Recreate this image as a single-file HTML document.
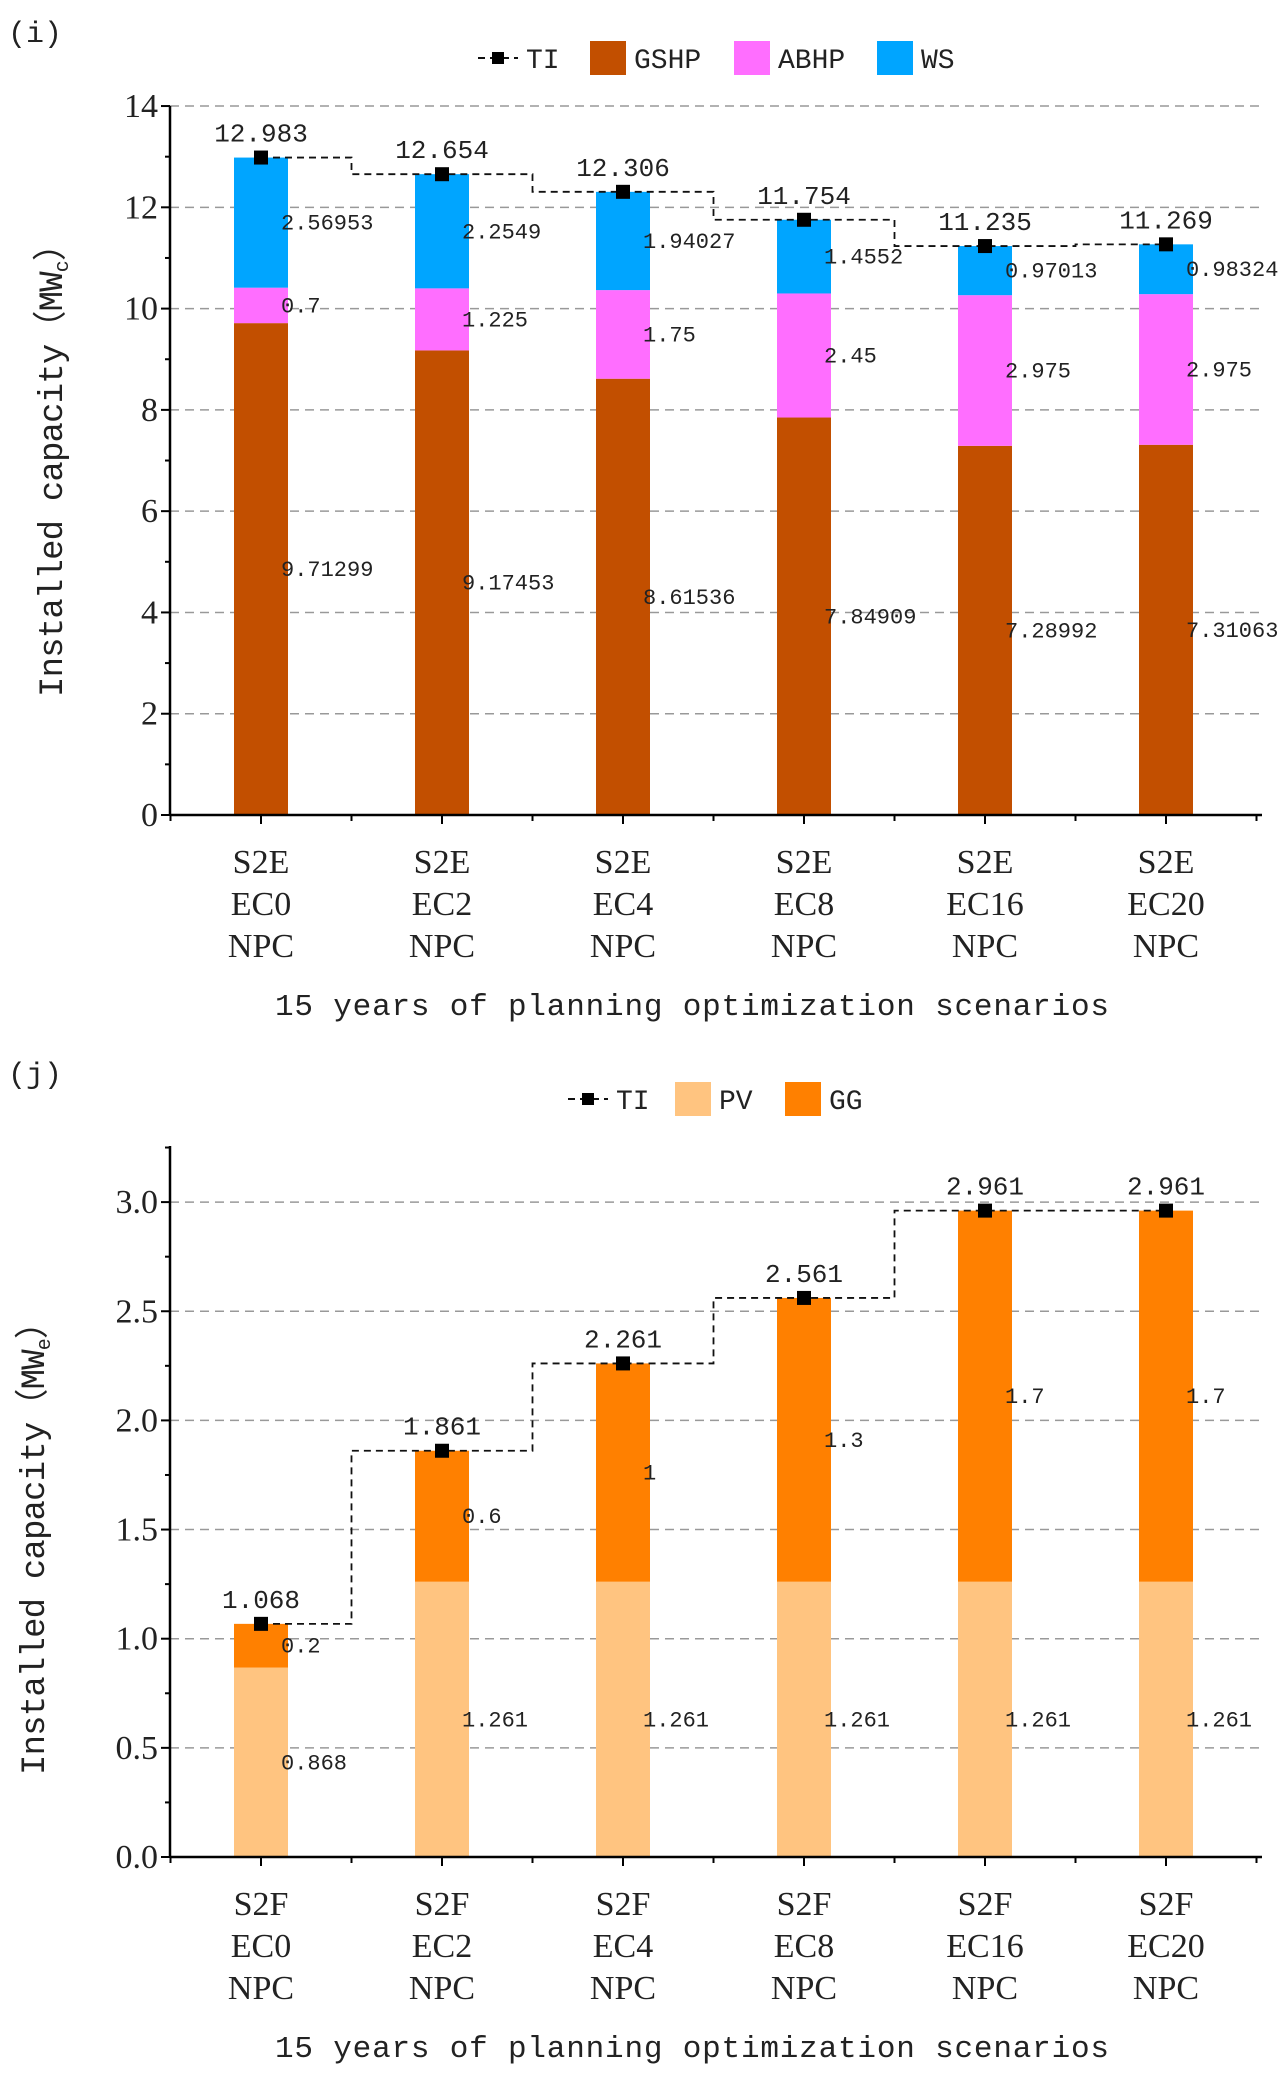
<!DOCTYPE html>
<html><head><meta charset="utf-8"><style>
html,body{margin:0;padding:0;background:#fff;}
svg{display:block;}
text{font-family:"Liberation Mono","Noto Sans CJK SC",monospace;fill:#222;}
.tick{font-family:"Liberation Serif","Noto Serif CJK SC",serif;font-size:34px;}
</style></head><body>
<svg id="chart" width="1284" height="2074" viewBox="0 0 1284 2074" xmlns="http://www.w3.org/2000/svg"></svg>
<script>
// ---- Chart (i) data ----
const catsI = ["EC0","EC2","EC4","EC8","EC16","EC20"];
const gshp = [9.71299,9.17453,8.61536,7.84909,7.28992,7.31063];
const abhp = [0.7,1.225,1.75,2.45,2.975,2.975];
const ws = [2.56953,2.2549,1.94027,1.4552,0.97013,0.98324];
const tiI = [12.983,12.654,12.306,11.754,11.235,11.269];
const ticksI = [0,2,4,6,8,10,12,14];
// ---- Chart (j) data ----
const catsJ = ["EC0","EC2","EC4","EC8","EC16","EC20"];
const pv = [0.868,1.261,1.261,1.261,1.261,1.261];
const gg = [0.2,0.6,1,1.3,1.7,1.7];
const tiJ = [1.068,1.861,2.261,2.561,2.961,2.961];
const ticksJ = [0.0,0.5,1.0,1.5,2.0,2.5,3.0];

const NS="http://www.w3.org/2000/svg";
const svg=document.getElementById('chart');
function el(tag,attrs,parent,txt){const e=document.createElementNS(NS,tag);for(const k in attrs)e.setAttribute(k,attrs[k]);if(txt!==undefined)e.textContent=txt;(parent||svg).appendChild(e);return e;}

function drawChart(o){
  const g=el('g',{});
  
  
  const x0=170,x1=1262;
  const xs=i=>261+i*181;
  const ys=v=>o.yBase-(v-0)*o.pxPerUnit;
  const pl=el('text',{x:8,y:o.labelY,'font-size':30,'font-family':'Liberation Serif, serif'},g,o.panel);
  
  
  o.ticks.forEach(t=>{
    if(t===0)return;
    const gl=el('line',{x1:x0,x2:x1,y1:ys(t),y2:ys(t),stroke:'#999','stroke-width':1.5,'stroke-dasharray':'9,6'},g);
    
    
  });
  for(let i=0;i<o.cats.length;i++){
    let acc=0;
    o.series.forEach(s=>{
      const v=s.vals[i];
      const r=el('rect',{x:xs(i)-27,y:ys(acc+v),width:54,height:ys(acc)-ys(acc+v),fill:s.color},g);
      
      
      const lt=el('text',{x:xs(i)+20,y:ys(acc+v/2)+7,'font-size':22,fill:'#333'},g,String(v));
      
      
      acc+=v;
    });
  }
  let d='';
  o.ti.forEach((v,i)=>{
    const y=ys(v);
    if(i===0)d+='M'+xs(0)+','+y;
    else d+=' L'+(xs(i)-90.5)+','+ys(o.ti[i-1])+' L'+(xs(i)-90.5)+','+y+' L'+xs(i)+','+y;
  });
  const pth=el('path',{d:d,fill:'none',stroke:'#111','stroke-width':1.8,'stroke-dasharray':'7,5'},g);
  
  
  o.ti.forEach((v,i)=>{
    const m=el('rect',{x:xs(i)-7,y:ys(v)-7,width:14,height:14,fill:'#000'},g);
    
    
    const t=el('text',{x:xs(i),y:ys(v)-16,'font-size':26,'text-anchor':'middle'},g,v.toFixed(3));
    
    
  });
  const ya=el('line',{x1:x0,x2:x0,y1:o.yTop,y2:o.yBase,stroke:'#000','stroke-width':2.5},g);
  
  
  const xa=el('line',{x1:x0,x2:x1,y1:o.yBase,y2:o.yBase,stroke:'#000','stroke-width':2.5},g);
  
  
  o.ticks.forEach((t,k)=>{
    el('line',{x1:x0-9,x2:x0,y1:ys(t),y2:ys(t),stroke:'#000','stroke-width':2},g);
    const lab=el('text',{x:x0-12,y:ys(t)+11,'text-anchor':'end',class:'tick'},g,o.tickFmt(t));
    
    
    if(k<o.ticks.length-1){const mid=(t+o.ticks[k+1])/2;el('line',{x1:x0-5,x2:x0,y1:ys(mid),y2:ys(mid),stroke:'#000','stroke-width':2},g);}
  });
  if(o.extraMinor) o.extraMinor.forEach(t=>el('line',{x1:x0-5,x2:x0,y1:ys(t),y2:ys(t),stroke:'#000','stroke-width':2},g));
  for(let i=0;i<o.cats.length;i++){
    el('line',{x1:xs(i),x2:xs(i),y1:o.yBase,y2:o.yBase+9,stroke:'#000','stroke-width':2},g);
    el('line',{x1:xs(i)+90.5,x2:xs(i)+90.5,y1:o.yBase,y2:o.yBase+6,stroke:'#000','stroke-width':2},g);
    [o.prefix,o.cats[i],'NPC'].forEach((s,j)=>{
      const t=el('text',{x:xs(i),y:o.yBase+58+j*42,'text-anchor':'middle',class:'tick'},g,s);
      
      
    });
  }
  el('line',{x1:xs(0)-90.5,x2:xs(0)-90.5,y1:o.yBase,y2:o.yBase+6,stroke:'#000','stroke-width':2},g);
  const xt=el('text',{x:692,y:o.yBase+200,'font-size':31,'text-anchor':'middle',textLength:834},g,'15 years of planning optimization scenarios');
  
  
  const yt=el('text',{x:0,y:0,'font-size':34,'text-anchor':'middle',textLength:470,transform:'translate('+o.yTitleX+','+o.yTitleY+') rotate(-90)'},g);
  
  
  yt.appendChild(document.createTextNode('Installed capacity（MW'));
  el('tspan',{'font-size':20,dy:6},yt,o.sub);
  el('tspan',{dy:-6},yt,'）');
  const lg=el('g',{},g);
  
  
  const ly=o.legendY;
  let lx=o.legendX;
  el('line',{x1:lx,x2:lx+40,y1:ly,y2:ly,stroke:'#111','stroke-width':2,'stroke-dasharray':'7,5'},lg);
  el('rect',{x:lx+14,y:ly-6,width:12,height:12,fill:'#000'},lg);
  const tl=el('text',{x:lx+48,y:ly+10,'font-size':28,'font-family':'Liberation Serif, serif'},lg,'TI');
  
  
  lx+=o.legendGap0;
  o.series.forEach(s=>{
    const r=el('rect',{x:lx,y:ly-17,width:36,height:34,fill:s.color},lg);
    
    
    el('text',{x:lx+44,y:ly+10,'font-size':28,'font-family':'Liberation Serif, serif'},lg,s.label);
    lx+=s.legW;
  });
}

drawChart({name:'chart-i-cooling',panel:'(i)',labelY:42,cats:catsI,prefix:'S2E',yBase:815,yTop:106,pxPerUnit:50.64,ticks:ticksI,
  tickFmt:t=>String(t),ti:tiI,sub:'c',yTitleX:62,yTitleY:462,legendY:58,legendX:478,legendGap0:112,
  series:[{key:'gshp',label:'GSHP',vals:gshp,color:'#C24F00',legW:144},
          {key:'abhp',label:'ABHP',vals:abhp,color:'#FF6EFF',legW:143},
          {key:'ws',label:'WS',vals:ws,color:'#00A5FF',legW:100}]});
drawChart({name:'chart-j-electric',panel:'(j)',labelY:1083,cats:catsJ,prefix:'S2F',yBase:1857,yTop:1146,pxPerUnit:218.3,ticks:ticksJ,
  tickFmt:t=>t.toFixed(1),ti:tiJ,sub:'e',yTitleX:44,yTitleY:1540,legendY:1099,legendX:568,legendGap0:107,extraMinor:[3.25],
  series:[{key:'pv',label:'PV',vals:pv,color:'#FFC480',legW:110},
          {key:'gg',label:'GG',vals:gg,color:'#FF8000',legW:100}]});
</script>
</body></html>
